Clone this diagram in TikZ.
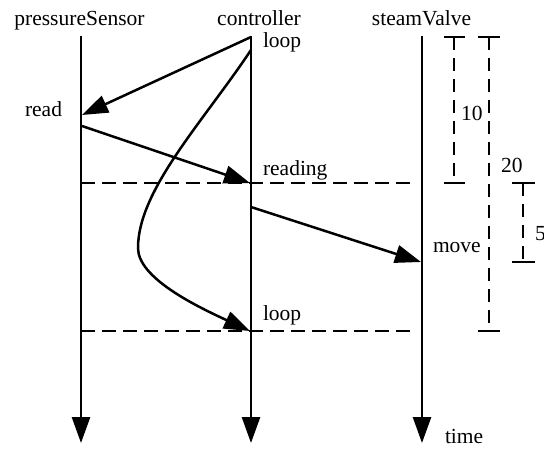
\documentclass[tikz,border=0pt]{standalone}
\usepackage{fontspec}
\setmainfont{Liberation Serif}
\usetikzlibrary{arrows.meta}
\begin{document}
\begin{tikzpicture}[x=1pt,y=-1pt,
  every node/.style={font=\fontsize{21.5}{26}\selectfont, inner sep=0pt, outer sep=0pt},
  lbl/.style={anchor=base west},
  title/.style={anchor=base},
  lifeline/.style={line width=2.7pt, -{Triangle[length=26pt,width=18pt]}},
  msg/.style={line width=2.5pt, -{Triangle[length=26pt,width=18pt]}},
  sep/.style={line width=2.7pt, dash pattern=on 14pt off 7pt},
  tick/.style={line width=2.5pt},
  bracket/.style={line width=2.7pt, dash pattern=on 13pt off 8pt}
]
\useasboundingbox (0,0) rectangle (544,448);
% titles
\node[title] (tps) at (79.5,25) {pressureSensor};
\node[title] (tc) at (259,25) {controller};
\node[title] (tsv) at (421.5,25) {steamValve};
\node[lbl] (ttime) at (445,443) {time};
% lifeline coordinates
\coordinate (ps0) at (81,36);
\coordinate (ps1) at (81,443);
\coordinate (c0) at (251,36);
\coordinate (c1) at (251,443);
\coordinate (sv0) at (422,36);
\coordinate (sv1) at (422,443);
\draw[lifeline] (ps0) -- (ps1);
\draw[lifeline] (c0) -- (c1);
\draw[lifeline] (sv0) -- (sv1);
% separators
\coordinate (d1a) at (81,183);
\coordinate (d1b) at (415,183);
\coordinate (d2a) at (81,331);
\coordinate (d2b) at (415,331);
\draw[sep] (d1a) -- (d1b);
\draw[sep] (d2a) -- (d2b);
% messages
\coordinate (m1s) at (251,37);
\coordinate (m1e) at (82,115);
\coordinate (m2s) at (82,126);
\coordinate (m2e) at (250,183);
\coordinate (m3s) at (251,207);
\coordinate (m3e) at (421,262);
\coordinate (m4s) at (251,50);
\coordinate (m4m) at (138,248);
\coordinate (m4e) at (250,331);
\draw[msg] (m1s) -- (m1e);
\draw[msg] (m2s) -- (m2e);
\draw[msg] (m3s) -- (m3e);
\draw[msg] (m4s) .. controls (203,122) and (138,190) .. (m4m) .. controls (138,278) and (196,306) .. (m4e);
% labels
\node[lbl] (lloop1) at (263,47.5) {loop};
\node[lbl] (lread) at (25,116) {read};
\node[lbl] (lreading) at (263,175) {reading};
\node[lbl] (lmove) at (433,252) {move};
\node[lbl] (lloop2) at (263,320) {loop};
% brackets
\coordinate (b10t) at (454,37);
\coordinate (b10b) at (454,183);
\coordinate (b20t) at (489,37);
\coordinate (b20b) at (489,331);
\coordinate (b5t) at (523,183);
\coordinate (b5b) at (523,262);
\draw[bracket] (b10t) -- (b10b);
\draw[bracket] (b20t) -- (b20b);
\draw[bracket] (b5t) -- (b5b);
\draw[tick] ([xshift=-10pt]b10t) -- ([xshift=11pt]b10t);
\draw[tick] ([xshift=-10pt]b10b) -- ([xshift=11pt]b10b);
\draw[tick] ([xshift=-11pt]b20t) -- ([xshift=11pt]b20t);
\draw[tick] ([xshift=-11pt]b20b) -- ([xshift=11pt]b20b);
\draw[tick] ([xshift=-11pt]b5t) -- ([xshift=12pt]b5t);
\draw[tick] ([xshift=-11pt]b5b) -- ([xshift=12pt]b5b);
\node[lbl] (l10) at (461,120) {10};
\node[lbl] (l20) at (501,172) {20};
\node[lbl] (l5) at (535,240) {5};
\end{tikzpicture}
\end{document}
